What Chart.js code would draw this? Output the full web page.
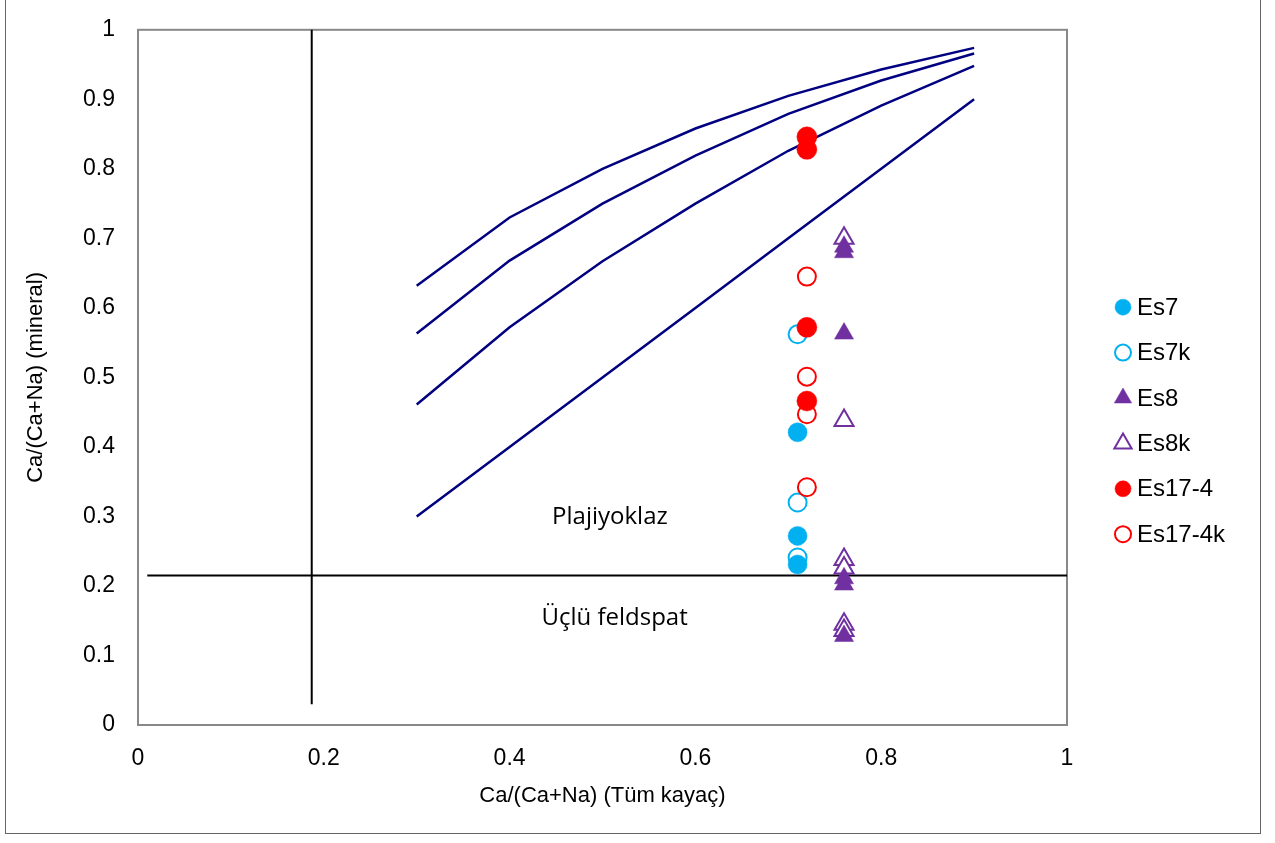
<!DOCTYPE html>
<html>
<head>
<meta charset="utf-8">
<script src="https://cdn.jsdelivr.net/npm/chart.js@4.4.0/dist/chart.umd.min.js"></script>
<style>
  html, body { margin: 0; padding: 0; background: #fff; overflow: hidden; }
  #wrap { position: relative; width: 1275px; height: 843px; overflow: hidden; }
  #chart { position: absolute; left: 0; top: -7px; }
  #frame { position: absolute; left: 5px; top: -3px; width: 1254px; height: 835px; border: 1.5px solid #666; pointer-events: none; }
</style>
</head>
<body>
<div id="wrap">
  <canvas id="chart" width="1275" height="850"></canvas>
  <div id="frame"></div>
</div>
<script>
// curve x positions (whole-rock Ca/(Ca+Na))
const curveX = [0.3, 0.4, 0.5, 0.6, 0.7, 0.8, 0.9];
const curve1 = [0.632, 0.730, 0.800, 0.858, 0.905, 0.943, 0.974];
const curve2 = [0.563, 0.668, 0.750, 0.819, 0.879, 0.927, 0.966];
const curve3 = [0.461, 0.572, 0.667, 0.750, 0.826, 0.891, 0.948];
const curve4 = [0.300, 0.400, 0.500, 0.600, 0.700, 0.800, 0.900];

// field boundaries
const vLineX = [0.187, 0.187];
const vLineY = [0.03, 1.0];
const hLineX = [0.01, 1.0];
const hLineY = [0.215, 0.215];

// samples
const es7X = 0.71, es8X = 0.76, es17X = 0.72;
const es7 = [0.421, 0.272, 0.231];
const es7k = [0.562, 0.320, 0.241];
const es8 = [0.688, 0.680, 0.563, 0.211, 0.202, 0.128];
const es8k = [0.700, 0.438, 0.238, 0.226, 0.145, 0.136];
const es17 = [0.846, 0.828, 0.572, 0.466];
const es17k = [0.645, 0.501, 0.447, 0.342];

const xTicks = [0, 0.2, 0.4, 0.6, 0.8, 1];
const yTicks = [0, 0.1, 0.2, 0.3, 0.4, 0.5, 0.6, 0.7, 0.8, 0.9, 1];

const labels = [
  { text: 'Plajiyoklaz', x: 0.508, y: 0.299 },
  { text: 'Üçlü feldspat', x: 0.513, y: 0.154 }
];

const blue = '#00B0F0', purple = '#7030A0', red = '#FF0000', navy = '#000080';

function pts(xs, ys) { return xs.map((x, i) => ({ x: x, y: ys[i] })); }
function col(x, ys) { return ys.map(y => ({ x: x, y: y })); }

function lineSet(data, color, width) {
  return { data: data, showLine: true, borderColor: color, borderWidth: width,
    pointRadius: 0, pointHoverRadius: 0, fill: false, tension: 0, order: 20 };
}

const sampleSets = [
  { label: 'Es7', data: col(es7X, es7), pointStyle: 'circle', pointRadius: 9.5,
    backgroundColor: blue, borderColor: blue, pointBorderWidth: 0.5, order: 3 },
  { label: 'Es7k', data: col(es7X, es7k), pointStyle: 'circle', pointRadius: 9,
    backgroundColor: '#fff', borderColor: blue, pointBorderWidth: 2, order: 6 },
  { label: 'Es8', data: col(es8X, es8), pointStyle: 'triangle', pointRadius: 11,
    backgroundColor: purple, borderColor: purple, pointBorderWidth: 0.5, order: 2 },
  { label: 'Es8k', data: col(es8X, es8k), pointStyle: 'triangle', pointRadius: 11,
    backgroundColor: '#fff', borderColor: purple, pointBorderWidth: 2, order: 5 },
  { label: 'Es17-4', data: col(es17X, es17), pointStyle: 'circle', pointRadius: 10,
    backgroundColor: red, borderColor: red, pointBorderWidth: 0.5, order: 1 },
  { label: 'Es17-4k', data: col(es17X, es17k), pointStyle: 'circle', pointRadius: 9,
    backgroundColor: '#fff', borderColor: red, pointBorderWidth: 2, order: 4 }
];

// plot box, legend and field labels
const extras = {
  id: 'extras',
  beforeDatasetsDraw(chart) {
    const a = chart.chartArea, ctx = chart.ctx;
    ctx.save();
    ctx.strokeStyle = '#888';
    ctx.lineWidth = 2;
    ctx.strokeRect(a.left, a.top, a.right - a.left, a.bottom - a.top);
    ctx.restore();
  },
  afterDatasetsDraw(chart) {
    const ctx = chart.ctx;
    const xs = chart.scales.x, ys = chart.scales.y;
    ctx.save();
    ctx.fillStyle = '#000';
    ctx.font = '24px "Open Sans"';
    ctx.textAlign = 'center';
    ctx.textBaseline = 'middle';
    labels.forEach(l => ctx.fillText(l.text, xs.getPixelForValue(l.x), ys.getPixelForValue(l.y)));

    // legend column, placed relative to the plot box
    const lx = chart.chartArea.right + 56, ly0 = ys.getPixelForValue(0.601), step = 45.4;
    ctx.font = '24px "Liberation Sans", Arial';
    ctx.textAlign = 'left';
    sampleSets.forEach((s, i) => {
      const y = ly0 + i * step;
      ctx.fillStyle = s.backgroundColor;
      ctx.strokeStyle = s.borderColor;
      ctx.lineWidth = s.pointBorderWidth;
      Chart.helpers.drawPoint(ctx, { pointStyle: s.pointStyle, radius: s.pointStyle === 'triangle' ? 10 : 8, borderWidth: s.pointBorderWidth, rotation: 0 }, lx, y);
      ctx.fillStyle = '#000';
      ctx.fillText(s.label, lx + 14, y + 1);
    });
    ctx.restore();
  }
};

new Chart(document.getElementById('chart'), {
  type: 'scatter',
  data: {
    datasets: [
      lineSet(pts(curveX, curve1), navy, 2.5),
      lineSet(pts(curveX, curve2), navy, 2.5),
      lineSet(pts(curveX, curve3), navy, 2.5),
      lineSet(pts(curveX, curve4), navy, 2.5),
      lineSet(pts(vLineX, vLineY), '#000', 2),
      lineSet(pts(hLineX, hLineY), '#000', 2)
    ].concat(sampleSets)
  },
  plugins: [extras],
  options: {
    responsive: false,
    animation: false,
    clip: false,
    layout: { padding: { left: 0, right: 208, top: 22, bottom: 0 } },
    plugins: { legend: { display: false }, tooltip: { enabled: false } },
    scales: {
      x: {
        type: 'linear', min: 0, max: 1,
        afterBuildTicks: s => { s.ticks = xTicks.map(v => ({ value: v })); },
        afterFit: s => { s.height = 118; },
        grid: { display: false, drawTicks: false },
        border: { display: true, color: '#888', width: 2 },
        ticks: { color: '#000', padding: 20, font: { family: '"Liberation Sans", Arial', size: 23 }, maxRotation: 0,
          callback: v => String(v) },
        title: { display: true, text: 'Ca/(Ca+Na) (Tüm kayaç)', color: '#000',
          font: { family: '"Liberation Sans", Arial', size: 22 }, padding: { top: 0, bottom: 34 } }
      },
      y: {
        type: 'linear', min: 0, max: 1,
        afterBuildTicks: s => { s.ticks = yTicks.map(v => ({ value: v })); },
        afterFit: s => { s.width = 138; },
        grid: { display: false, drawTicks: false },
        border: { display: true, color: '#888', width: 2 },
        ticks: { color: '#000', padding: 23, font: { family: '"Liberation Sans", Arial', size: 23 },
          callback: v => String(v) },
        title: { display: true, text: 'Ca/(Ca+Na) (mineral)', color: '#000',
          font: { family: '"Liberation Sans", Arial', size: 22 }, padding: { top: 23, bottom: 0 } }
      }
    }
  }
});
</script>
</body>
</html>
